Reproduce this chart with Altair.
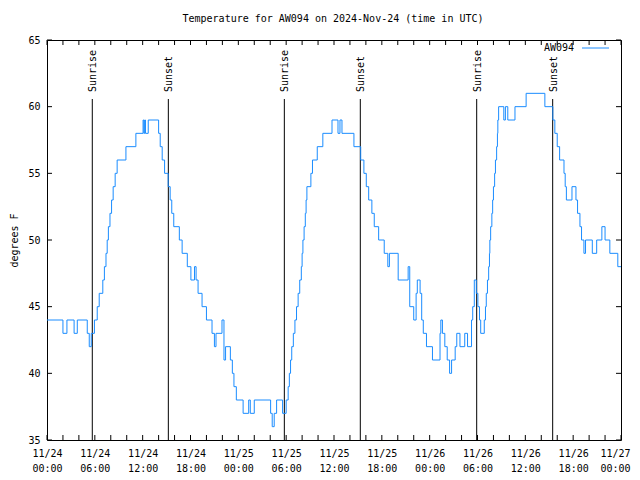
import altair as alt
import pandas as pd

# ---- data ----
hours = [0, 2.0, 2.5, 3.4, 3.8, 5.05, 5.3, 5.55, 5.95, 6.3, 6.55, 7.0, 7.2, 7.4, 7.55, 7.7, 7.9, 8.1, 8.3, 8.55,
         8.8, 9.9, 11.15, 12.05, 12.15, 12.25, 12.35, 12.7, 14.0, 14.2, 14.45, 14.75, 15.2, 15.45, 15.65, 15.9,
         16.6, 16.95, 17.6, 18.05, 18.5, 18.7, 18.95, 19.45, 20.0, 20.7, 21.0, 21.2, 21.95, 22.2, 22.4, 23.0,
         23.25, 23.45, 23.75, 24.6, 25.3, 25.5, 26.0, 28.05, 28.25, 28.5, 28.8, 29.55, 30.0, 30.25, 30.4, 30.55,
         30.7, 30.9, 31.1, 31.3, 31.5, 31.7, 31.9, 32.0, 32.1, 32.25, 32.4, 32.5, 32.6, 33.1, 33.3, 33.9, 34.6,
         35.75, 36.5, 36.75, 37.0, 38.5, 39.35, 39.75, 40.05, 40.35, 40.75, 41.05, 41.6, 42.3, 42.75, 42.95,
         44.05, 45.3, 45.5, 46.0, 46.3, 46.45, 46.8, 47.0, 47.2, 47.6, 48.35, 49.3, 49.4, 49.6, 49.9, 50.2, 50.5,
         50.75, 51.2, 51.4, 51.8, 52.4, 52.75, 53.25, 53.4, 53.6, 53.85, 54.05, 54.25, 54.4, 54.85, 55.0, 55.1,
         55.25, 55.4, 55.5, 55.55, 55.65, 55.8, 55.9, 56.0, 56.15, 56.25, 56.4, 56.5, 56.55, 56.65, 57.3, 57.5,
         57.8, 58.7, 60.1, 62.45, 63.45, 63.7, 64.0, 64.3, 64.85, 65.0, 65.15, 65.85, 66.35, 66.55, 66.85, 67.05,
         67.35, 67.55, 68.4, 68.95, 69.6, 70.0, 70.6, 71.6, 72.0]
temps = [44, 43, 44, 43, 44, 43, 42, 43, 44, 45, 46, 47, 48, 49, 50, 51, 52, 53, 54, 55,
         56, 57, 58, 59, 58, 59, 58, 59, 58, 57, 56, 55, 54, 53, 52, 51,
         50, 49, 48, 47, 48, 47, 46, 45, 44, 43, 42, 43, 44, 41, 42, 41,
         40, 39, 38, 37, 38, 37, 38, 37, 36, 37, 38, 37, 38, 39, 40, 41,
         42, 43, 44, 45, 46, 47, 48, 49, 50, 51, 52, 53, 54, 55, 56, 57, 58,
         59, 58, 59, 58, 57, 56, 55, 54, 53, 52, 51, 50, 49, 48, 49,
         47, 48, 45, 44, 46, 47, 46, 44, 43, 42, 41, 43, 44, 43, 42, 41, 40,
         41, 42, 43, 42, 43, 42, 44, 45, 47, 46, 45, 44, 43, 44, 45, 46,
         47, 48, 49, 50, 51, 52, 53, 54, 55, 56, 57, 58, 59, 60, 59, 60,
         59, 60, 61, 60, 59, 58, 57, 56, 55, 54, 53, 54, 53, 52, 51, 50,
         49, 50, 49, 50, 51, 50, 49, 48, 48]

event_hours = [5.68, 15.22, 29.77, 39.3, 53.9, 63.43]
event_labels = ["Sunrise", "Sunset", "Sunrise", "Sunset", "Sunrise", "Sunset"]

y_ticks = [35, 40, 45, 50, 55, 60, 65]
major_tick_hours = list(range(0, 73, 6))
minor_tick_hours = list(range(0, 73, 2))

title_text = ["Temperature for AW094 on 2024-Nov-24 (time in UTC)"]
y_title = "degrees F"
legend_label = ["AW094"]

# ---- build tables ----
base = pd.Timestamp("2024-11-24T00:00:00")


def iso(h):
    return (base + pd.Timedelta(hours=h)).strftime("%Y-%m-%dT%H:%M:%SZ")


def ms(h):
    return int((base + pd.Timedelta(hours=h)).value // 1_000_000)


df = pd.DataFrame({"time": [iso(h) for h in hours], "temp": temps})
ev = pd.DataFrame({"time": [iso(h) for h in event_hours], "label": event_labels})
xt = pd.DataFrame({"time": [iso(h) for h in minor_tick_hours]})
yt = pd.DataFrame({"temp": y_ticks})
lg = pd.DataFrame({"label": legend_label})
tt = pd.DataFrame({"label": title_text})

FONT = "DejaVu Sans Mono"
BLUE = "#1a8cff"
W, H = 574, 400

xscale = alt.Scale(type="utc", domain=[ms(0), ms(72)], nice=False)
yscale = alt.Scale(domain=[35, 65], nice=False, zero=False)

last_ms = ms(major_tick_hours[-1])
xaxis = alt.Axis(values=[ms(h) for h in major_tick_hours],
                 labelExpr="[utcFormat(datum.value, '%m/%d'), utcFormat(datum.value, '%H:%M')]",
                 title=None, tickSize=0, labelPadding=8, domain=False, grid=False,
                 labelFont=FONT, labelFontSize=10, labelColor="black", labelLineHeight=15,
                 labelFlush=False, labelOverlap=False,
                 labelAlign={"expr": f"datum.value >= {last_ms} ? 'right' : 'center'"},
                 labelOffset={"expr": f"datum.value >= {last_ms} ? 9 : 0"})
yaxis = alt.Axis(values=y_ticks, title=y_title, tickSize=0, labelPadding=7, domain=False, grid=False,
                 labelFont=FONT, labelFontSize=10, labelColor="black",
                 titleFont=FONT, titleFontSize=10, titleFontWeight="normal", titleColor="black",
                 titlePadding=8)

X = alt.X("time:T", scale=xscale, axis=xaxis)
Y = alt.Y("temp:Q", scale=yscale, axis=yaxis)

line = alt.Chart(df).mark_line(color=BLUE, strokeWidth=1, interpolate="step-after").encode(x=X, y=Y)

ev_rules = alt.Chart(ev).mark_rule(color="black", strokeWidth=1).encode(
    x=X, y=alt.value(H), y2=alt.value(59))
ev_text = alt.Chart(ev).mark_text(angle=270, align="left", baseline="middle", font=FONT,
                                  fontSize=10, color="black", dy=1).encode(
    x=X, y=alt.value(52), text="label:N")

xt_bottom = alt.Chart(xt).mark_rule(color="black", strokeWidth=1).encode(
    x=X, y=alt.value(H), y2=alt.value(H - 5))
xt_top = alt.Chart(xt).mark_rule(color="black", strokeWidth=1).encode(
    x=X, y=alt.value(0), y2=alt.value(5))
yt_left = alt.Chart(yt).mark_rule(color="black", strokeWidth=1).encode(
    y=Y, x=alt.value(0), x2=alt.value(5))
yt_right = alt.Chart(yt).mark_rule(color="black", strokeWidth=1).encode(
    y=Y, x=alt.value(W), x2=alt.value(W - 5))

lg_text = alt.Chart(lg).mark_text(align="right", baseline="middle", font=FONT, fontSize=10,
                                  color="black").encode(
    x=alt.value(527), y=alt.value(8), text="label:N")
lg_line = alt.Chart(lg).mark_rule(color=BLUE, strokeWidth=1).encode(
    x=alt.value(535), x2=alt.value(562), y=alt.value(8))

title = alt.Chart(tt).mark_text(align="center", baseline="middle", font=FONT, fontSize=10,
                                color="black").encode(
    x=alt.value(W / 2 - 1), y=alt.value(-21), text="label:N")

chart = alt.layer(xt_bottom, xt_top, yt_left, yt_right, ev_rules, ev_text, line, lg_text, lg_line,
                  title).properties(
    width=W, height=H,
    autosize=alt.AutoSizeParams(type="none"),
    padding={"left": 39, "top": 32, "right": 11, "bottom": 32},
    background="white",
).configure_view(stroke="black", strokeWidth=1)

chart.save("out.html", embed_options={"renderer": "svg", "actions": False})
